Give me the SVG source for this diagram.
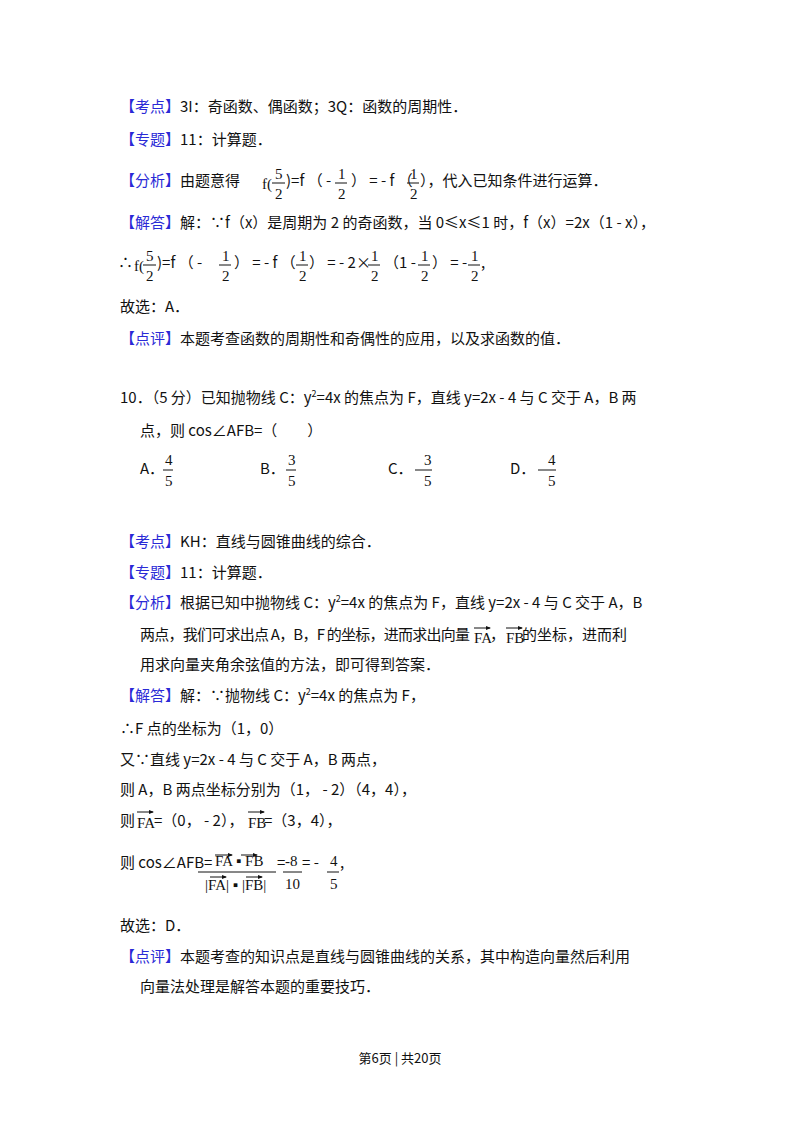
<svg xmlns="http://www.w3.org/2000/svg" width="800" height="1133" viewBox="0 0 800 1133">
<style>
text{font-family:"Noto Sans CJK SC","Liberation Sans",sans-serif;font-size:15px;fill:#111}
.b{fill:#2a2ad6}
.m{font-family:"Liberation Serif",serif;font-size:15px}
.ft{font-size:13px}
line{stroke:#111;stroke-width:1}
</style>
<rect width="800" height="1133" fill="#fff"/>
<defs><marker id="ah" markerWidth="5" markerHeight="4" refX="4" refY="2" orient="auto"><path d="M0,0L5,2L0,4z" fill="#111"/></marker></defs>
<g id="q9">
<text x="120" y="112"><tspan class="b">【考点】</tspan>3I：奇函数、偶函数；3Q：函数的周期性．</text>
<text x="120" y="145"><tspan class="b">【专题】</tspan>11：计算题．</text>
<text x="120" y="186"><tspan class="b">【分析】</tspan>由题意得</text>
<text class="m" x="262" y="189">f(</text><text class="m" x="275" y="179">5</text><line x1="272" y1="183" x2="285" y2="183"/><text class="m" x="275" y="199">2</text>
<text x="286" y="186">)=f （ - </text><text class="m" x="338" y="179">1</text><line x1="335" y1="183" x2="347" y2="183"/><text class="m" x="338" y="199">2</text>
<text x="351" y="186">） = - f （</text><text class="m" x="410" y="179">1</text><line x1="407" y1="183" x2="419" y2="183"/><text class="m" x="410" y="199">2</text>
<text x="420" y="186">），代入已知条件进行运算．</text>
<text x="120" y="228"><tspan class="b">【解答】</tspan>解：∵f（x）是周期为 2 的奇函数，当 0≤x≤1 时，f（x）=2x（1 - x），</text>
<text x="118" y="268">∴</text><text class="m" x="134" y="271">f(</text><text class="m" x="146" y="261">5</text><line x1="143" y1="265" x2="156" y2="265"/><text class="m" x="146" y="281">2</text>
<text x="157" y="268">)=f （ - </text><text class="m" x="222" y="261">1</text><line x1="219" y1="265" x2="231" y2="265"/><text class="m" x="222" y="281">2</text>
<text x="234" y="268">） = - f （</text><text class="m" x="299" y="261">1</text><line x1="296" y1="265" x2="308" y2="265"/><text class="m" x="299" y="281">2</text>
<text x="309" y="268">） = - 2×</text><text class="m" x="371" y="261">1</text><line x1="368" y1="265" x2="380" y2="265"/><text class="m" x="371" y="281">2</text>
<text x="384" y="268">（1 - </text><text class="m" x="421" y="261">1</text><line x1="418" y1="265" x2="430" y2="265"/><text class="m" x="421" y="281">2</text>
<text x="432" y="268">） = - </text><text class="m" x="471" y="261">1</text><line x1="468" y1="265" x2="480" y2="265"/><text class="m" x="471" y="281">2</text><text x="481" y="268">,</text>
<text x="120" y="312">故选：A．</text>
<text x="120" y="344"><tspan class="b">【点评】</tspan>本题考查函数的周期性和奇偶性的应用，以及求函数的值．</text>
</g>
<g id="q10">
<text x="120" y="403">10．（5 分）已知抛物线 C：y<tspan font-size="9" dy="-6">2</tspan><tspan dy="6">=4x 的焦点为 F，直线 y=2x - 4 与 C 交于 A，B 两</tspan></text>
<text x="140" y="436">点，则 cos∠AFB=（　　）</text>
<text x="140" y="474">A．</text><text class="m" x="165" y="465">4</text><line x1="163" y1="470" x2="173" y2="470"/><text class="m" x="165" y="486">5</text>
<text x="260" y="474">B．</text><text class="m" x="288" y="465">3</text><line x1="286" y1="470" x2="296" y2="470"/><text class="m" x="288" y="486">5</text>
<text x="388" y="474">C．</text><text class="m" x="424" y="465">3</text><line x1="415" y1="470" x2="432" y2="470"/><text class="m" x="424" y="486">5</text>
<text x="510" y="474">D．</text><text class="m" x="548" y="465">4</text><line x1="538" y1="470" x2="556" y2="470"/><text class="m" x="548" y="486">5</text>
<text x="120" y="547"><tspan class="b">【考点】</tspan>KH：直线与圆锥曲线的综合．</text>
<text x="120" y="578"><tspan class="b">【专题】</tspan>11：计算题．</text>
<text x="120" y="608"><tspan class="b">【分析】</tspan>根据已知中抛物线 C：y<tspan font-size="9" dy="-6">2</tspan><tspan dy="6">=4x 的焦点为 F，直线 y=2x - 4 与 C 交于 A，B</tspan></text>
<text x="140" y="640" textLength="330">两点，我们可求出点 A，B，F 的坐标，进而求出向量</text>
<text class="m" x="474" y="643" font-size="13">FA</text><line x1="474" y1="628" x2="490" y2="628" marker-end="url(#ah)"/>
<text x="490" y="640">，</text>
<text class="m" x="506" y="643" font-size="13">FB</text><line x1="506" y1="628" x2="522" y2="628" marker-end="url(#ah)"/>
<text x="522" y="640">的坐标，进而利</text>
<text x="140" y="670">用求向量夹角余弦值的方法，即可得到答案．</text>
<text x="120" y="701"><tspan class="b">【解答】</tspan>解：∵抛物线 C：y<tspan font-size="9" dy="-6">2</tspan><tspan dy="6">=4x 的焦点为 F，</tspan></text>
<text x="120" y="734">∴F 点的坐标为（1，0）</text>
<text x="120" y="765">又∵直线 y=2x - 4 与 C 交于 A，B 两点，</text>
<text x="120" y="795">则 A，B 两点坐标分别为（1，  - 2）（4，4），</text>
<text x="120" y="826">则</text><text class="m" x="137" y="828" font-size="13">FA</text><line x1="137" y1="812" x2="153" y2="812" marker-end="url(#ah)"/>
<text x="154" y="826">=（0，  - 2），</text>
<text class="m" x="248" y="828" font-size="13">FB</text><line x1="248" y1="812" x2="264" y2="812" marker-end="url(#ah)"/>
<text x="264" y="826">=（3，4），</text>
<text x="120" y="868">则 cos∠AFB=</text>
<text class="m" x="215" y="866" font-size="13">FA ▪ FB</text>
<line x1="215" y1="855" x2="232" y2="855" marker-end="url(#ah)"/><line x1="241" y1="855" x2="257" y2="855" marker-end="url(#ah)"/>
<line x1="198" y1="872" x2="276" y2="872"/>
<text class="m" x="205" y="890" font-size="13">|FA| ▪ |FB|</text>
<line x1="210" y1="877" x2="226" y2="877" marker-end="url(#ah)"/><line x1="246" y1="877" x2="262" y2="877" marker-end="url(#ah)"/>
<text x="277" y="868">=</text><text class="m" x="285" y="866">-8</text><line x1="283" y1="872" x2="302" y2="872"/><text class="m" x="285" y="889">10</text>
<text x="302" y="868">= - </text><text class="m" x="330" y="866">4</text><line x1="327" y1="872" x2="339" y2="872"/><text class="m" x="330" y="889">5</text><text x="340" y="868">,</text>
<text x="120" y="931">故选：D．</text>
<text x="120" y="962"><tspan class="b">【点评】</tspan>本题考查的知识点是直线与圆锥曲线的关系，其中构造向量然后利用</text>
<text x="140" y="992">向量法处理是解答本题的重要技巧．</text>
</g>
<text class="ft" x="400" y="1063" text-anchor="middle">第6页 | 共20页</text>
</svg>
